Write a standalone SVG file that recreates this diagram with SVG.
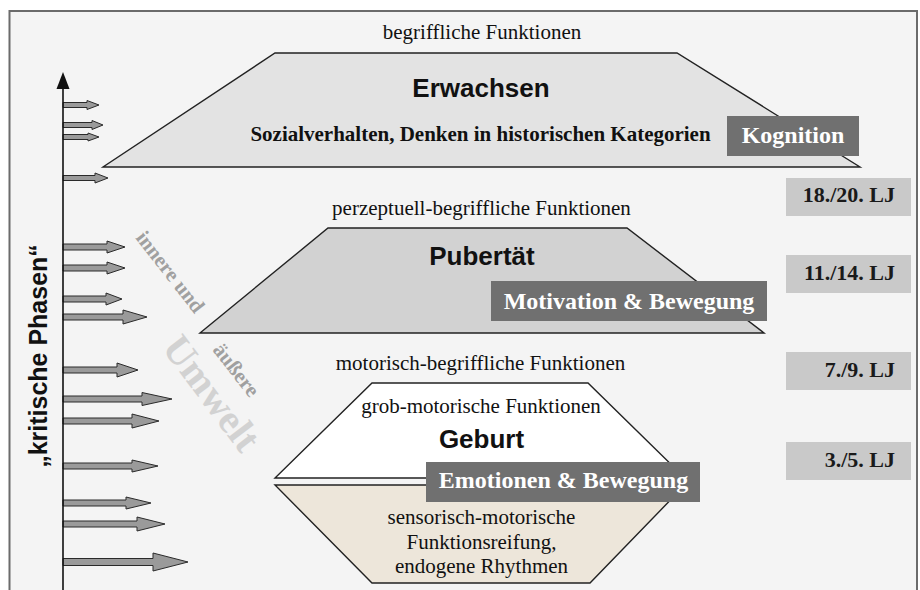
<svg xmlns="http://www.w3.org/2000/svg" width="920" height="590" viewBox="0 0 920 590">
<defs>
<style>
.serif{font-family:"Liberation Serif","Times New Roman",serif;}
.sans{font-family:"Liberation Sans",Arial,sans-serif;font-weight:bold;fill:#111;}
.reg{font-size:21px;fill:#111;text-anchor:middle;}
.title{font-size:26px;text-anchor:middle;}
.shape{stroke:#222;stroke-width:1.4;stroke-linejoin:miter;}
.dark{fill:#707070;}
.lab{font-size:24px;font-weight:bold;fill:#fff;text-anchor:middle;}
.age{fill:#c9c9c9;}
.agetxt{font-size:22px;font-weight:bold;fill:#1a1a1a;text-anchor:end;}
.arr{fill:#9a9a9a;stroke:#2a2a2a;stroke-width:1;}
.env{font-size:21px;font-weight:bold;fill:#a0a0a0;}
</style>
</defs>
<rect x="0" y="0" width="920" height="590" fill="#ffffff"/>
<rect x="9.5" y="11" width="907.5" height="600" fill="#f4f4f4" stroke="#6b6b6b" stroke-width="2"/>

<g id="connectors">
<polygon class="arr" points="63,102.5 87,102.5 87,100.5 99,105 87,109.5 87,107.5 63,107.5"/>
<polygon class="arr" points="63,122.5 92,122.5 92,120.5 103,125 92,129.5 92,127.5 63,127.5"/>
<polygon class="arr" points="63,134.5 88,134.5 88,133 99,137 88,141 88,139.5 63,139.5"/>
<polygon class="arr" points="63,175.5 95,175.5 95,173 108,178 95,183 95,180.5 63,180.5"/>
<polygon class="arr" points="63,244 107,244 107,241 125,247 107,253 107,250 63,250"/>
<polygon class="arr" points="63,265 107,265 107,262 125,268 107,274 107,271 63,271"/>
<polygon class="arr" points="63,296 106,296 106,293 122,299 106,305 106,302 63,302"/>
<polygon class="arr" points="63,314 123,314 123,310 147,317 123,324 123,320 63,320"/>
<polygon class="arr" points="63,367 117,367 117,363 138,370 117,377 117,373 63,373"/>
<polygon class="arr" points="63,396 142,396 142,392.5 172,399 142,405.5 142,402 63,402"/>
<polygon class="arr" points="63,418 132,418 132,414 159,421 132,428 132,424 63,424"/>
<polygon class="arr" points="63,463 132,463 132,460 158,466 132,472 132,469 63,469"/>
<polygon class="arr" points="63,500 126,500 126,497 151,503 126,509 126,506 63,506"/>
<polygon class="arr" points="63,521 137,521 137,517 165,524 137,531 137,527 63,527"/>
<polygon class="arr" points="63,558.5 153,558.5 153,553 188,562 153,571 153,565.5 63,565.5"/>
<line x1="63" y1="86" x2="63" y2="592" stroke="#111" stroke-width="1.6"/>
<polygon points="63,72 69.5,89 56.5,89" fill="#111"/>
</g>

<g id="kritische-phasen">
<text class="sans" font-size="25" text-anchor="middle" transform="translate(47,356) rotate(-90)">„kritische Phasen“</text>
</g>

<g id="umwelt">
<text class="serif env" transform="translate(135,238) rotate(52)">innere und</text>
<text class="serif env" transform="translate(212,350) rotate(52)">äußere</text>
<text class="serif" font-size="40" font-weight="bold" fill="#d2d2d2" transform="translate(161,348) rotate(53)">Umwelt</text>
</g>

<g id="erwachsen">
<text class="serif reg" x="482" y="39">begriffliche Funktionen</text>
<polygon class="shape" fill="#e3e3e3" points="275,53 677,53 860,167 103,167"/>
<text class="sans title" x="481" y="97">Erwachsen</text>
<text class="serif" font-size="21" font-weight="bold" fill="#111" text-anchor="middle" x="480.5" y="141">Sozialverhalten, Denken in historischen Kategorien</text>
<rect class="dark" x="727" y="116" width="132" height="40"/>
<text class="serif lab" x="793" y="143">Kognition</text>
</g>

<g id="pubertaet">
<text class="serif reg" x="481.5" y="215">perzeptuell-begriffliche Funktionen</text>
<polygon class="shape" fill="#d2d2d2" points="328,228 627,228 764,333 200,333"/>
<text class="sans title" x="482" y="265">Pubertät</text>
<rect class="dark" x="491" y="281" width="276" height="40"/>
<text class="serif lab" x="629" y="309">Motivation &amp; Bewegung</text>
</g>

<g id="geburt">
<text class="serif reg" x="480.5" y="370">motorisch-begriffliche Funktionen</text>
<polygon class="shape" fill="#ffffff" points="372,383 588,383 685,478 275,478"/>
<polygon class="shape" fill="#ede6da" points="275,485 685,485 590,583 372,583"/>
<text class="serif reg" x="481" y="413">grob-motorische Funktionen</text>
<text class="sans title" x="481.5" y="448">Geburt</text>
<rect class="dark" x="426" y="462" width="274" height="40"/>
<text class="serif lab" x="563.5" y="488">Emotionen &amp; Bewegung</text>
<text class="serif reg" x="481.5" y="524">sensorisch-motorische</text>
<text class="serif reg" x="481.5" y="549">Funktionsreifung,</text>
<text class="serif reg" x="481.5" y="573">endogene Rhythmen</text>
</g>

<g id="age-18-20">
<rect class="age" x="786" y="178" width="125" height="38"/>
<text class="serif agetxt" x="895" y="202">18./20. LJ</text>
</g>
<g id="age-11-14">
<rect class="age" x="786" y="255" width="125" height="38"/>
<text class="serif agetxt" x="895" y="280">11./14. LJ</text>
</g>
<g id="age-7-9">
<rect class="age" x="786" y="352" width="125" height="38"/>
<text class="serif agetxt" x="895" y="377">7./9. LJ</text>
</g>
<g id="age-3-5">
<rect class="age" x="786" y="442" width="125" height="38"/>
<text class="serif agetxt" x="895" y="467">3./5. LJ</text>
</g>
</svg>
